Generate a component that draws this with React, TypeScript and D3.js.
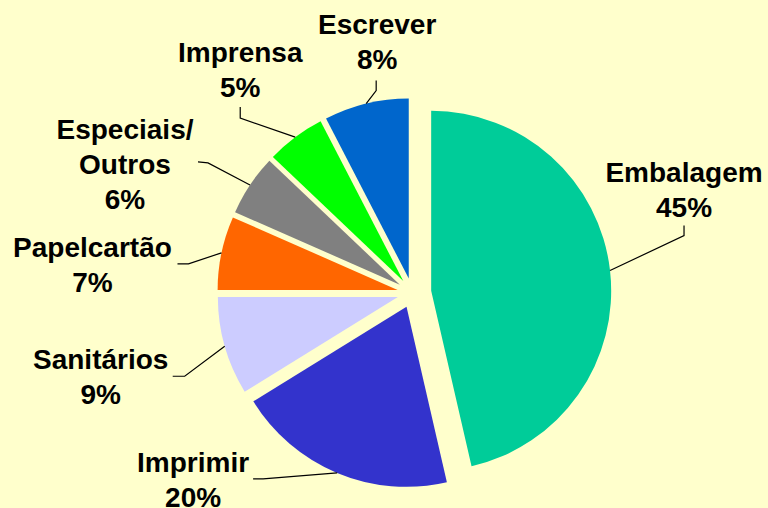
import * as d3 from 'd3'

// slice shares (angles), and the printed labels
const categories = ['Embalagem', 'Imprimir', 'Sanitários', 'Papelcartão', 'Especiais/\nOutros', 'Imprensa', 'Escrever']
const shares = [46.4, 19.8, 8.8, 6.6, 5.5, 5.3, 7.6]
const percentLabels = ['45%', '20%', '9%', '7%', '6%', '5%', '8%']
const colors = ['#00CC99', '#3333CC', '#CCCCFF', '#FF6600', '#808080', '#00FF00', '#0066CC']
const explode = [19, 15, 15, 15, 15, 15, 15]

// label placement relative to the leader's point on the slice edge
// [text dx, first baseline dy, leader end dx, dy, elbow dx, dy]
const labelLayout = [
  [74, -89, 74, -45, 74, -35],
  [-144, -1, -84, 6, -74, 6],
  [-124, 23, -52, 30, -40, 30],
  [-129, 4, -44, 11, -33, 11],
  [-125, -46, -52, -23, -42, -22],
  [-55, -75, -55, -30, -55, -19],
  [11, -70, 10, -23, 10, -13],
]

const width = 768
const height = 508
const cx = 412.3
const cy = 293
const radius = 180
const lineH = 35

export default function App() {
  const pie = d3.pie<number>().sort(null).startAngle(0).endAngle(2 * Math.PI)
  const arcs = pie(shares)
  const arc = d3.arc<d3.PieArcDatum<number>>().innerRadius(0).outerRadius(radius)

  return (
    <div style={{ position: 'absolute', left: 0, top: 0 }}>
      <svg width={width} height={height} style={{ display: 'block' }}>
        <rect width={width} height={height} fill="#FFFFCC" />
        <g transform={`translate(${cx},${cy})`}>
          {arcs.map((a, i) => {
            const mid = (a.startAngle + a.endAngle) / 2
            const ox = Math.sin(mid) * explode[i]
            const oy = -Math.cos(mid) * explode[i]
            return (
              <path key={i} d={arc(a) || ''} fill={colors[i]} transform={`translate(${ox},${oy})`} />
            )
          })}
        </g>
        <g fontFamily="'Liberation Sans', Arial, sans-serif" fontWeight="bold" fontSize={28} fill="#000">
          {arcs.map((a, i) => {
            const mid = (a.startAngle + a.endAngle) / 2
            const r = radius + explode[i]
            const px = cx + Math.sin(mid) * r
            const py = cy - Math.cos(mid) * r
            const [tdx, tdy, edx, edy, bdx, bdy] = labelLayout[i]
            const lines = categories[i].split('\n').concat(percentLabels[i])
            const pts = [[px + edx, py + edy], [px + bdx, py + bdy], [px, py]]
            return (
              <g key={i}>
                <polyline points={pts.map(p => p.join(',')).join(' ')} fill="none" stroke="#000" strokeWidth={1.2} />
                <text textAnchor="middle" x={px + tdx} y={py + tdy}>
                  {lines.map((l, j) => (
                    <tspan key={j} x={px + tdx} dy={j === 0 ? 0 : lineH}>{l}</tspan>
                  ))}
                </text>
              </g>
            )
          })}
        </g>
      </svg>
    </div>
  )
}
